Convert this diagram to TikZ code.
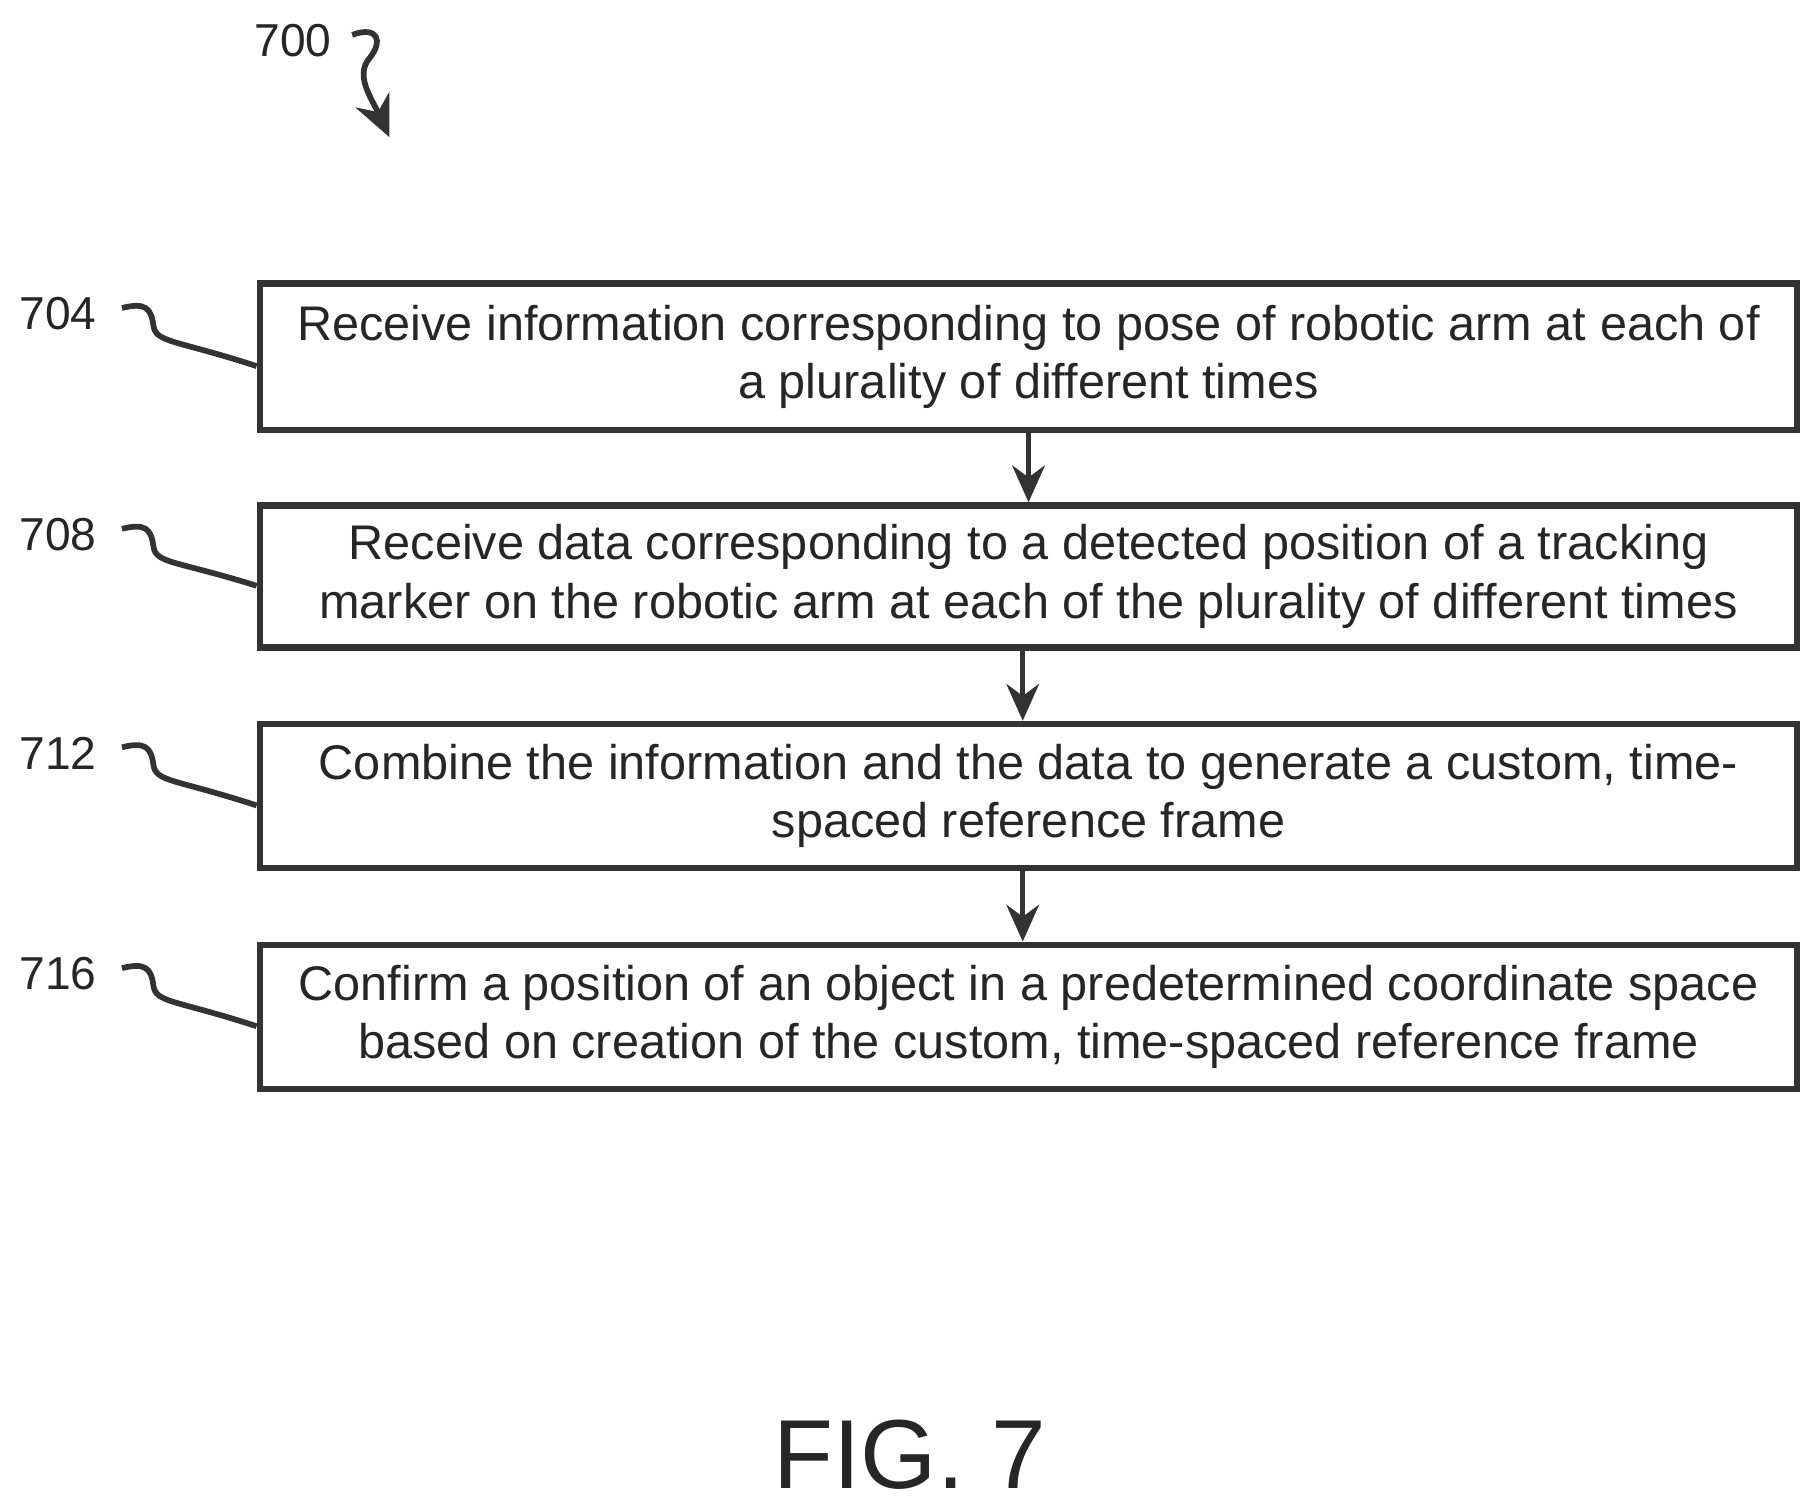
\documentclass[tikz,border=0pt]{standalone}
\usepackage{fontspec}
\setmainfont{Liberation Sans}
\usetikzlibrary{arrows.meta}
\begin{document}
\begin{tikzpicture}[x=0.01cm,y=-0.01cm,
  box/.style={draw=black!80,line width=1.6pt,minimum width=13.22cm,align=center,font=\fontsize{11.9}{14.3}\selectfont,inner sep=0pt,text=black!85},
  lab/.style={font=\fontsize{11.3}{14}\selectfont,text=black!85},
  sq/.style={draw=black!80,line width=1.4pt},
  arr/.style={draw=black!80,line width=1.2pt,-{Stealth[length=9pt,width=8pt]}}]
\useasboundingbox (0,0) rectangle (1560,1296);
\node[box,minimum height=1.26cm] (b1) at (885,307) {Receive information corresponding to pose of robotic arm at each of\\a plurality of different times};
\node[box,minimum height=1.22cm] (b2) at (885,496) {Receive data corresponding to a detected position of a tracking\\marker on the robotic arm at each of the plurality of different times};
\node[box,minimum height=1.24cm] (b3) at (885,685) {Combine the information and the data to generate a custom, time-\\spaced reference frame};
\node[box,minimum height=1.24cm] (b4) at (885,875) {Confirm a position of an object in a predetermined coordinate space\\based on creation of the custom, time-spaced reference frame};
\draw[arr] (b1.south) -- (b2.north);
\draw[arr] ([xshift=-0.05cm]b2.south) -- ([xshift=-0.05cm]b3.north);
\draw[arr] ([xshift=-0.05cm]b3.south) -- ([xshift=-0.05cm]b4.north);
\foreach \n/\b/\y in {704/b1/270,708/b2/460,712/b3/648,716/b4/838}{
  \node[lab] (l\n) at (50,\y) {\n};
  \coordinate (e\n) at ([yshift=-0.08cm]\b.west);
  \draw[sq] (105,\y-5) .. controls (125,\y-10) and (130,\y-5) .. (132,\y+10) .. controls (134,\y+25) and (150,\y+22) .. (e\n);
}
\node[lab] (l700) at (252,35) {700};
\coordinate (t700) at (335,118);
\draw[sq,-{Stealth[length=10pt,width=9pt]}] (303,30) .. controls (325,22) and (330,35) .. (318,50) .. controls (305,65) and (320,85) .. (t700);
\node[font=\fontsize{24}{26}\selectfont,text=black!85] (fig) at (783,1252) {FIG. 7};
\end{tikzpicture}
\end{document}
